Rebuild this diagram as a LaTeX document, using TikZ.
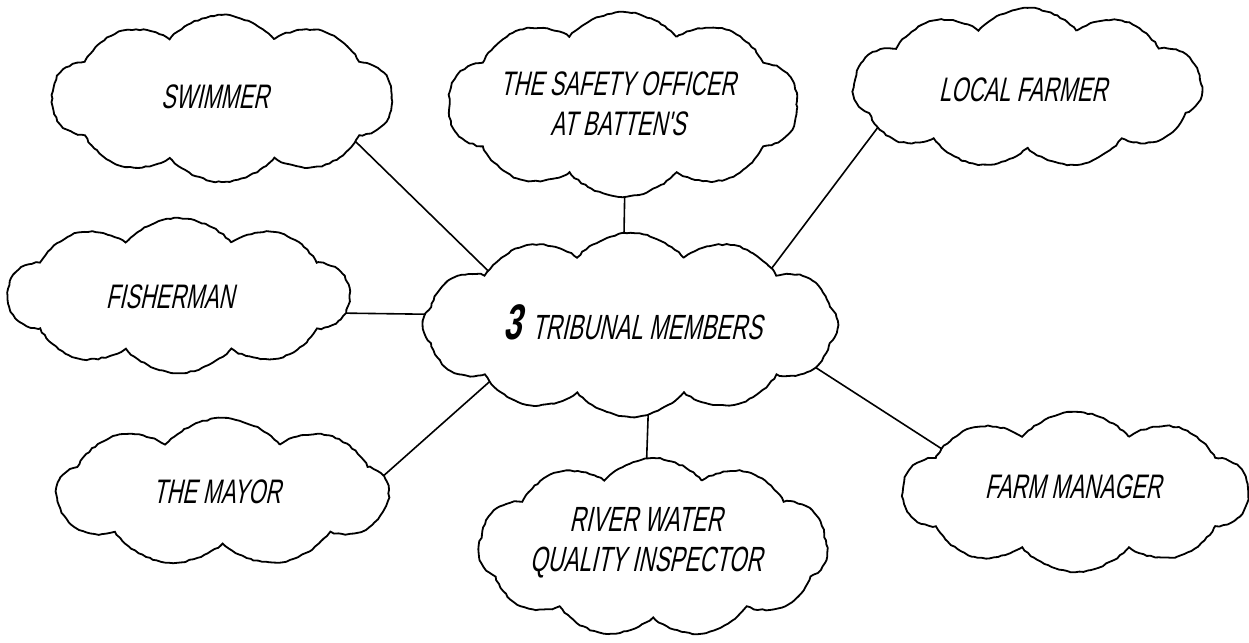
\documentclass[tikz,border=0pt]{standalone}
\usepackage{fontspec}
\newfontfamily\hand[FakeStretch=0.64,FakeSlant=0.22]{Liberation Sans}
\usetikzlibrary{shapes.symbols,decorations.pathmorphing,backgrounds}
\begin{document}
\begin{tikzpicture}[x=1pt,y=-1pt,
  cloudy/.style={cloud, draw, fill=white, line width=1.8pt, cloud ignores aspect,
    inner sep=0pt, cloud puffs=10, cloud puff arc=100,
    decorate, decoration={random steps,segment length=4pt,amplitude=0.7pt}},
  lbl/.style={font=\hand\fontsize{34}{40}\selectfont, align=center, inner sep=0pt},
  link/.style={line width=1.6pt, shorten <=-10pt, shorten >=-10pt}]
\useasboundingbox (0,0) rectangle (1249,642);
% clouds
\node[cloudy, minimum width=340pt, minimum height=167pt] (swim) at (222,98.5) {};
\node[cloudy, minimum width=350pt, minimum height=185pt] (safe) at (623,104.5) {};
\node[cloudy, cloud puffs=11, minimum width=349pt, minimum height=160pt] (farmer) at (1027.5,88) {};
\node[cloudy, minimum width=341pt, minimum height=155pt] (fisher) at (178.5,295.5) {};
\node[cloudy, cloud puffs=12, minimum width=415pt, minimum height=184pt] (tri) at (630.5,325) {};
\node[cloudy, cloud puffs=9, minimum width=331pt, minimum height=149pt] (mayor) at (222.5,492.5) {};
\node[cloudy, cloud puffs=11, minimum width=350pt, minimum height=179pt] (insp) at (653,547.5) {};
\node[cloudy, minimum width=345pt, minimum height=160pt] (mgr) at (1075.5,492) {};
% labels
\node[lbl] (swimt) at (215,97) {SWIMMER};
\node[lbl] (safet) at (618,104) {THE SAFETY OFFICER\\AT BATTEN'S};
\node[lbl] (farmert) at (1023,90) {LOCAL FARMER};
\node[lbl] (fishert) at (170,297) {FISHERMAN};
\node[lbl] (trit) at (633,322) {{\bfseries\fontsize{50}{50}\selectfont 3}\hspace{10pt}{\fontsize{35}{40}\selectfont TRIBUNAL MEMBERS}};
\node[lbl] (mayort) at (217,492) {THE MAYOR};
\node[lbl, font=\hand\fontsize{35}{40}\selectfont] (inspt) at (646,543) {RIVER WATER\\QUALITY INSPECTOR};
\node[lbl] (mgrt) at (1073,487) {FARM MANAGER};
% connectors
\begin{pgfonlayer}{background}
\fill[white] (0,0) rectangle (1249,642);
\draw[link] (swim.-18) -- (tri.159);
\draw[link] (safe.-89) -- (tri.94);
\draw[link] (farmer.-165) -- (tri.22);
\draw[link] (fisher.-6) -- (tri.177);
\draw[link] (mayor.6) -- (tri.-158);
\draw[link] (insp.94) -- (tri.-79);
\draw[link] (mgr.162) -- (tri.-13);
\end{pgfonlayer}
\end{tikzpicture}
\end{document}
